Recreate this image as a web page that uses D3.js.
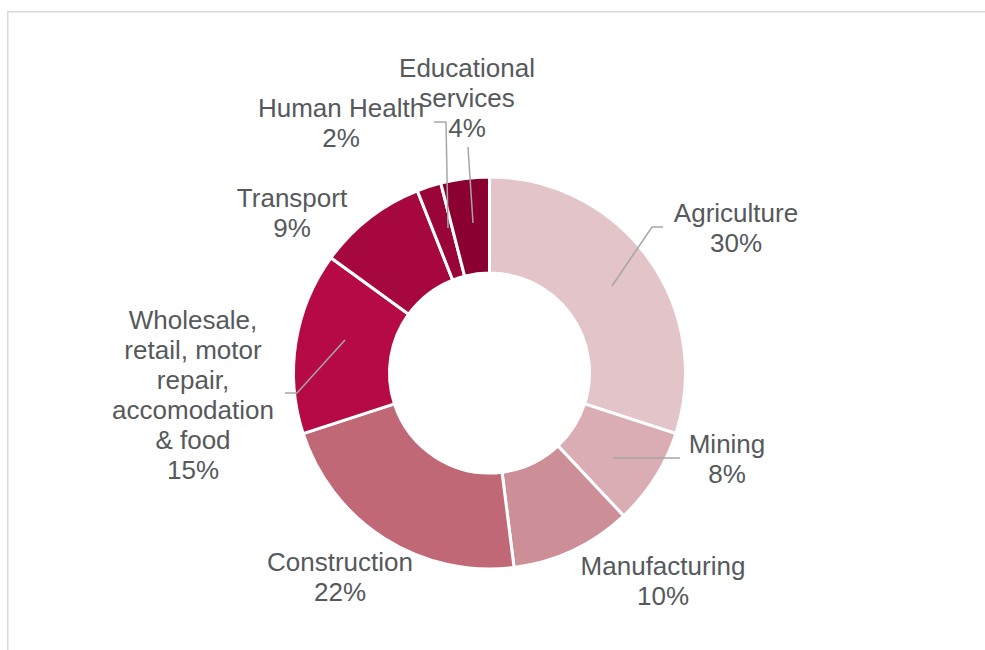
<!DOCTYPE html>
<html>
<head>
<meta charset="utf-8">
<script src="https://cdn.jsdelivr.net/npm/d3@7"></script>
<style>
  body { margin: 0; background: #fff; }
  svg { display: block; }
</style>
</head>
<body>
<div id="chart"></div>
<script>
// datos
var sectors = ["Agriculture", "Mining", "Manufacturing", "Construction",
  "Wholesale, retail, motor repair, accomodation & food", "Transport",
  "Human Health", "Educational services"];
var shares = [30, 8, 10, 22, 15, 9, 2, 4];
var colors = ["#e2c4c9", "#daadb4", "#cd8f97", "#c16877", "#b50a45", "#a6073f", "#990538", "#8a0031"];
// lineas de cada etiqueta
var labelLines = [
  ["Agriculture"], ["Mining"], ["Manufacturing"], ["Construction"],
  ["Wholesale,", "retail, motor", "repair,", "accomodation", "& food"],
  ["Transport"], ["Human Health"], ["Educational", "services"]
];

var width = 985, height = 650,
    cx = 489.5, cy = 373,
    outerR = 196, innerR = 100;

var svg = d3.select("#chart").append("svg")
  .attr("width", width)
  .attr("height", height);

// marco gris
svg.append("rect")
  .attr("x", 7.75).attr("y", 11.75)
  .attr("width", width + 20).attr("height", height + 20)
  .style("fill", "none")
  .style("stroke", "#d9d9d9")
  .style("stroke-width", 1.5);

var data = sectors.map(function(s, i) {
  return { name: s, value: shares[i], color: colors[i], lines: labelLines[i] };
});

var pie = d3.pie().sort(null).value(function(d) { return d.value; });
var arc = d3.arc().innerRadius(innerR).outerRadius(outerR);
var arcs = pie(data);

var g = svg.append("g").attr("transform", "translate(" + cx + "," + cy + ")");

g.selectAll("path.slice")
  .data(arcs)
  .enter().append("path")
  .attr("class", "slice")
  .attr("d", arc)
  .style("fill", function(d) { return d.data.color; })
  .style("stroke", "#fff")
  .style("stroke-width", 3);

// posiciones de etiquetas (centro de la primera linea) y lineas guia
var labelPos = [
  [736, 213], [727, 444], [663, 566], [340, 562],
  [193, 320], [292, 198], [341, 108], [467, 68]
];
var leaders = [
  [[663, 227], [652, 227], [612, 286]],
  [[680, 458], [613, 458]],
  null, null,
  [[285, 393], [297, 393], [345, 340]],
  null,
  [[434, 122], [446, 122], [448, 228]],
  [[468, 147], [473, 223]]
];

var line = d3.line();
svg.selectAll("path.leader")
  .data(leaders.filter(function(l) { return l; }))
  .enter().append("path")
  .attr("class", "leader")
  .attr("d", line)
  .style("fill", "none")
  .style("stroke", "#a6a6a6")
  .style("stroke-width", 1.5);

var labels = svg.selectAll("text.lbl")
  .data(arcs)
  .enter().append("text")
  .attr("class", "lbl")
  .attr("text-anchor", "middle")
  .style("font-family", "'Liberation Sans', Arial, sans-serif")
  .style("font-size", "26px")
  .style("fill", "#56595c");

labels.each(function(d, i) {
  var t = d3.select(this);
  var p = labelPos[i];
  var rows = d.data.lines.concat([d.data.value + "%"]);
  rows.forEach(function(r, k) {
    t.append("tspan")
      .attr("x", p[0])
      .attr("y", p[1] + k * 30)
      .attr("dy", "0.35em")
      .text(r);
  });
});
</script>
</body>
</html>
